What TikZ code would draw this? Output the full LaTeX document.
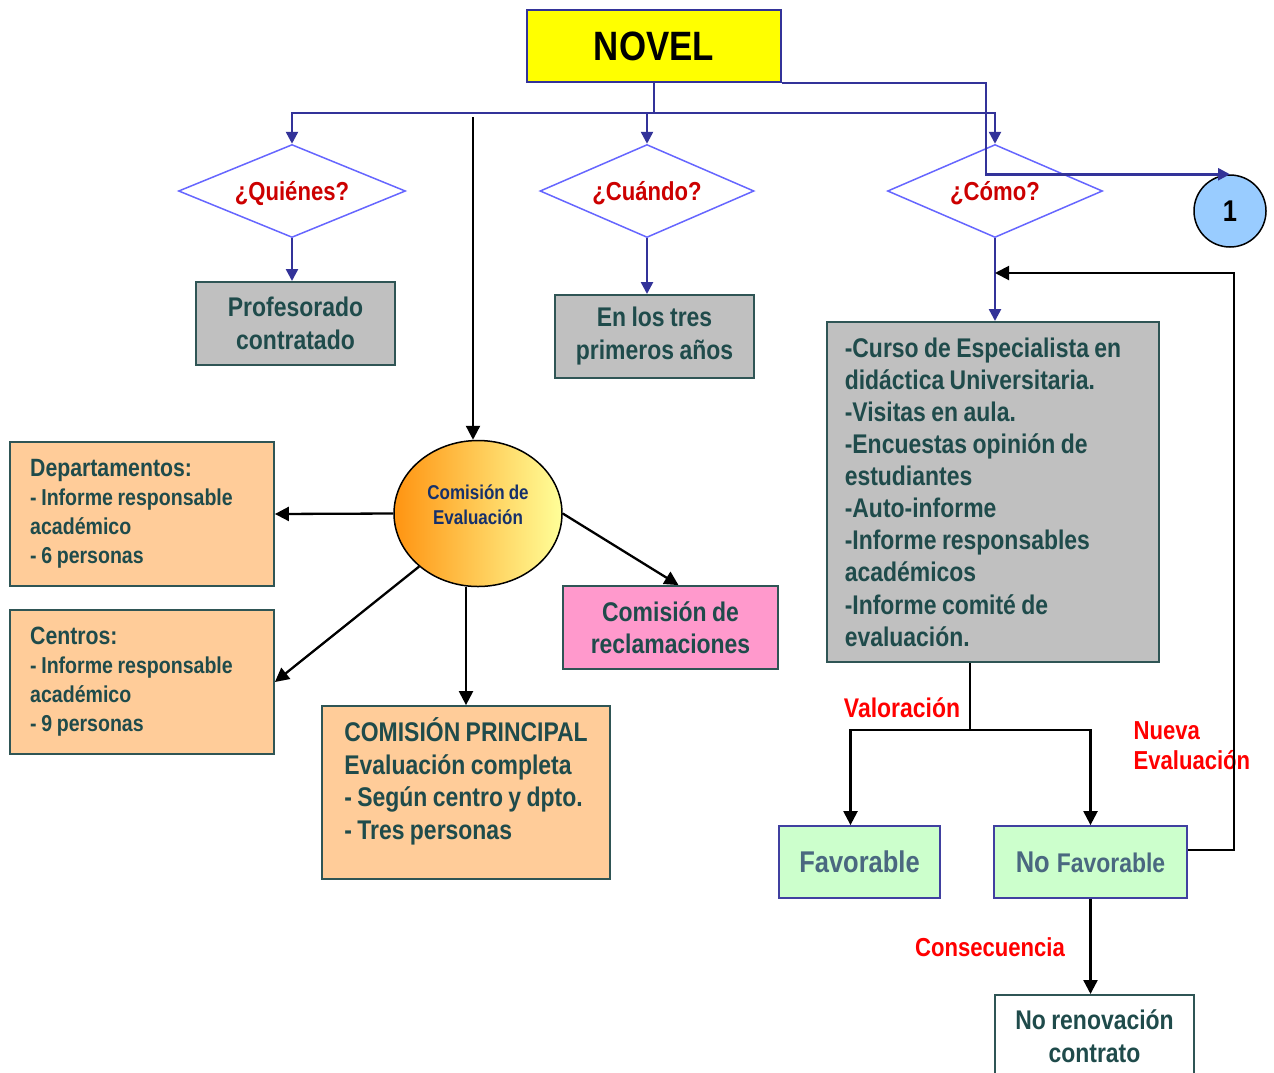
\documentclass[tikz,border=0pt]{standalone}
\usepackage{fontspec}
\setmainfont{Liberation Sans}[FakeStretch=0.85,WordSpace=0.85]
\usetikzlibrary{arrows.meta,shapes.geometric,calc}
\definecolor{bline}{HTML}{333399}
\definecolor{dline}{HTML}{6666FF}
\definecolor{qred}{HTML}{CC0000}
\definecolor{tealtx}{HTML}{1F4B4B}
\definecolor{bord}{HTML}{2F5555}
\definecolor{gbox}{HTML}{C0C0C0}
\definecolor{obox}{HTML}{FFCC99}
\definecolor{pbox}{HTML}{FF99CC}
\definecolor{gnbox}{HTML}{CCFFCC}
\definecolor{gntx}{HTML}{4A6880}
\definecolor{fvb}{HTML}{4040A0}
\definecolor{navytx}{HTML}{15306B}
\definecolor{circfill}{HTML}{99CCFF}
\definecolor{yel}{HTML}{FFFF00}
\definecolor{orgA}{HTML}{FF9411}
\definecolor{yelB}{HTML}{FFFF99}
\begin{document}
\begin{tikzpicture}[x=1pt,y=-1pt,
  every node/.style={font=\bfseries},
  graybox/.style={rectangle, draw=bord, line width=2pt, fill=gbox, text=tealtx, align=center, inner sep=0pt, font=\bfseries\fontsize{27}{33}\selectfont},
  orbox/.style={rectangle, draw=bord, line width=1.8pt, fill=obox, text=tealtx, align=left, inner sep=0pt, font=\bfseries\fontsize{23}{29}\selectfont},
  dia/.style={diamond, draw=dline, line width=1.5pt, aspect=2.4, inner sep=0pt, text=qred, minimum height=93pt, text height=19pt, text depth=1pt, font=\bfseries\fontsize{26}{30}\selectfont},
  greenbox/.style={rectangle, draw=fvb, line width=1.8pt, fill=gnbox, text=gntx, inner sep=0pt, minimum height=72pt},
  bln/.style={draw=bline, line width=2.5pt},
  barr/.style={draw=bline, line width=2.5pt, -{Triangle[length=12pt,width=12pt]}},
  kln/.style={draw=black, line width=2pt},
  karr/.style={draw=black, line width=2.3pt, -{Triangle[length=14pt,width=14pt]}},
  redlbl/.style={text=red, font=\bfseries\fontsize{26}{30}\selectfont}
]
\useasboundingbox (0,0) rectangle (1274,1072);
\clip (0,0) rectangle (1274,1072);
\fill[white] (0,0) rectangle (1274,1072);

% nodes
\node[rectangle, draw=bline, line width=2pt, fill=yel, minimum width=254pt, minimum height=72pt, inner sep=0pt, font=\bfseries\fontsize{41}{48}\selectfont] (novel) at (654,46) {NOVEL};

\node[dia, minimum width=227pt] (q) at (292,191) {¿Quiénes?};
\node[dia, minimum width=214pt] (c) at (647,191) {¿Cuándo?};
\node[dia, minimum width=215pt] (co) at (995,191) {¿Cómo?};

\node[circle, draw=black, line width=1.5pt, fill=circfill, minimum size=72pt, inner sep=0pt, font=\bfseries\fontsize{30}{34}\selectfont] (one) at (1230,211) {1};

\node[graybox, minimum width=199pt, minimum height=83pt] (prof) at (295.5,323.5) {Profesorado\\contratado};
\node[graybox, minimum width=199pt, minimum height=83pt] (tres) at (654.5,336.5) {En los tres\\primeros años};

\node[graybox, minimum width=332pt, minimum height=340pt, align=left, font=\bfseries\fontsize{27}{32.1}\selectfont] (cb) at (993,492) {-Curso de Especialista en\rule{20pt}{0pt}\\didáctica Universitaria.\\-Visitas en aula.\\-Encuestas opinión de\\estudiantes\\-Auto-informe\\-Informe responsables\\académicos\\-Informe comité de\\evaluación.};

\node[ellipse, draw=black, line width=1.5pt, left color=orgA, right color=yelB, minimum width=168pt, minimum height=146pt, inner sep=0pt, text=navytx, align=center, font=\bfseries\fontsize{20}{25}\selectfont] (ell) at (478,513.5) {Comisión de\\Evaluación\\[-7pt]\mbox{}};

\node[orbox, minimum width=264pt, minimum height=144pt] (dep) at (142,514) {{\fontsize{25}{29}\selectfont Departamentos:}\\- Informe responsable\rule{21pt}{0pt}\\académico\\- 6 personas};
\node[orbox, minimum width=264pt, minimum height=144pt] (cen) at (142,682) {{\fontsize{25}{29}\selectfont Centros:}\\- Informe responsable\rule{21pt}{0pt}\\académico\\- 9 personas};

\node[orbox, minimum width=288pt, minimum height=173pt, font=\bfseries\fontsize{27}{32.7}\selectfont] (cp) at (466,792.5) {COMISIÓN PRINCIPAL\\Evaluación completa\\- Según centro y dpto.\\- Tres personas\\[-5pt]\mbox{}};

\node[rectangle, draw=bord, line width=1.8pt, fill=pbox, minimum width=215pt, minimum height=83pt, inner sep=0pt, text=tealtx, align=center, font=\bfseries\fontsize{27}{32}\selectfont] (rec) at (670.5,627.5) {Comisión de\\reclamaciones};

\node[greenbox, minimum width=161pt, font=\bfseries\fontsize{30}{36}\selectfont] (fav) at (859.5,862) {Favorable};
\node[greenbox, minimum width=193pt] (nf) at (1090.5,862) {{\fontsize{30}{36}\selectfont No}\hspace{7pt}{\fontsize{27}{32}\selectfont Favorable}};

\node[graybox, fill=white, minimum width=199pt, minimum height=83pt] (nr) at (1094.5,1036.5) {No renovación\\contrato};

\node[redlbl, font=\bfseries\fontsize{27}{30}\selectfont] (val) at (902,708) {Valoración};
\node[redlbl, anchor=west, align=left] (nue) at (1130,746) {Nueva\\Evaluación};
\node[redlbl] (cons) at (990,947) {Consecuencia};

% connectors
\coordinate (bus) at (654,113);
\draw[bln] (novel.south) -- (bus);
\draw[barr] (bus) -| (q.north);
\draw[barr] (bus) -| (c.north);
\draw[barr] (bus) -| (co.north);
\draw[barr] (novel.south east) -- ++(204,0) |- (one.north);

\draw[barr] (q.south) -- (q.south |- prof.north);
\draw[barr] (c.south) -- (c.south |- tres.north);
\draw[barr] (co.south) -- (co.south |- cb.north);

\coordinate (topk) at (473,117);
\draw[karr] (topk) -- (topk |- ell.north);

\draw[karr] (ell.west) -- (dep.east);
\draw[karr] (ell.222) -- (cen.east);
\draw[karr] (cp.north |- ell.south) -- (cp.north);
\draw[karr] (ell.east) -- ([xshift=8pt]rec.north);

\coordinate (vj) at (970,730);
\draw[kln] (vj |- cb.south) -- (vj);
\draw[karr] (vj) -| ([xshift=-9pt]fav.north);
\draw[karr] (vj) -| (nf.north);

\coordinate (fbr) at (1234,273);
\draw[karr, line width=2pt] ([yshift=12pt]nf.east) -| (fbr) -- (co.south |- fbr);

\draw[karr] (nf.south) -- (nf.south |- nr.north);
\end{tikzpicture}
\end{document}
